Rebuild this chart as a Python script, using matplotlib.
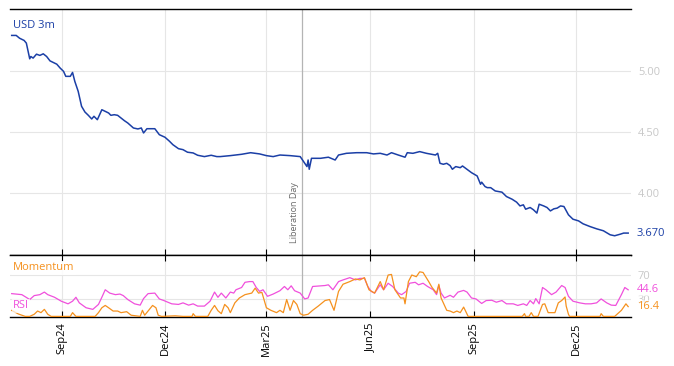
import matplotlib
matplotlib.use("Agg")
import matplotlib.pyplot as plt
import matplotlib.dates as mdates
import matplotlib.transforms as mtransforms
import pandas as pd

plt.rcParams['font.family'] = ['Open Sans', 'DejaVu Sans']

# ---------------- data ----------------
usd_dates = ["2024-07-18", "2024-07-22", "2024-07-25", "2024-07-29", "2024-07-31",
             "2024-08-03", "2024-08-04", "2024-08-06", "2024-08-09", "2024-08-12",
             "2024-08-15", "2024-08-18", "2024-08-21", "2024-08-24", "2024-08-27",
             "2024-08-30", "2024-09-02", "2024-09-04", "2024-09-08", "2024-09-10",
             "2024-09-12", "2024-09-15", "2024-09-18", "2024-09-21", "2024-09-24",
             "2024-09-27", "2024-09-29", "2024-10-02", "2024-10-06", "2024-10-09",
             "2024-10-12", "2024-10-14", "2024-10-17", "2024-10-20", "2024-10-23",
             "2024-10-26", "2024-10-29", "2024-11-03", "2024-11-07", "2024-11-10",
             "2024-11-12", "2024-11-15", "2024-11-22", "2024-11-26", "2024-12-01",
             "2024-12-05", "2024-12-08", "2024-12-13", "2024-12-17", "2024-12-21",
             "2024-12-26", "2024-12-30", "2025-01-05", "2025-01-11", "2025-01-16",
             "2025-01-19", "2025-01-28", "2025-02-07", "2025-02-15", "2025-02-23",
             "2025-03-01", "2025-03-07", "2025-03-13", "2025-03-22", "2025-03-31",
             "2025-04-04", "2025-04-06", "2025-04-07", "2025-04-08", "2025-04-10",
             "2025-04-18", "2025-04-25", "2025-05-01", "2025-05-04", "2025-05-11",
             "2025-05-20", "2025-05-29", "2025-06-04", "2025-06-10", "2025-06-16",
             "2025-06-20", "2025-06-26", "2025-07-02", "2025-07-04", "2025-07-09",
             "2025-07-15", "2025-07-21", "2025-07-29", "2025-07-31", "2025-08-02",
             "2025-08-05", "2025-08-08", "2025-08-11", "2025-08-13", "2025-08-16",
             "2025-08-20", "2025-08-22", "2025-08-26", "2025-08-30", "2025-09-04",
             "2025-09-07", "2025-09-08", "2025-09-11", "2025-09-13", "2025-09-16",
             "2025-09-20", "2025-09-26", "2025-09-30", "2025-10-05", "2025-10-09",
             "2025-10-12", "2025-10-15", "2025-10-17", "2025-10-21", "2025-10-24",
             "2025-10-27", "2025-10-29", "2025-11-02", "2025-11-05", "2025-11-08",
             "2025-11-11", "2025-11-14", "2025-11-17", "2025-11-20", "2025-11-24",
             "2025-11-28", "2025-12-03", "2025-12-07", "2025-12-13", "2025-12-19",
             "2025-12-25", "2025-12-31", "2026-01-04", "2026-01-09", "2026-01-12",
             "2026-01-16"]
usd_3m = [5.293, 5.293, 5.270, 5.252, 5.230,
          5.101, 5.120, 5.107, 5.139, 5.129,
          5.142, 5.120, 5.084, 5.071, 5.057,
          5.025, 4.998, 4.957, 4.957, 4.989,
          4.916, 4.834, 4.711, 4.664, 4.637,
          4.607, 4.629, 4.601, 4.683, 4.670,
          4.656, 4.637, 4.642, 4.637, 4.615,
          4.593, 4.574, 4.533, 4.525, 4.533,
          4.492, 4.527, 4.527, 4.478, 4.457,
          4.424, 4.396, 4.363, 4.355, 4.334,
          4.328, 4.309, 4.298, 4.309, 4.298,
          4.298, 4.306, 4.317, 4.330, 4.320,
          4.306, 4.298, 4.311, 4.306, 4.298,
          4.243, 4.216, 4.270, 4.194, 4.284,
          4.284, 4.293, 4.270, 4.311, 4.325,
          4.330, 4.330, 4.320, 4.325, 4.311,
          4.330, 4.311, 4.293, 4.330, 4.325,
          4.339, 4.325, 4.311, 4.325, 4.243,
          4.235, 4.243, 4.224, 4.194, 4.216,
          4.207, 4.221, 4.194, 4.166, 4.139,
          4.071, 4.088, 4.052, 4.043, 4.043,
          4.016, 4.006, 3.970, 3.948, 3.924,
          3.893, 3.902, 3.866, 3.880, 3.861,
          3.834, 3.907, 3.893, 3.880, 3.852,
          3.869, 3.875, 3.893, 3.888, 3.820,
          3.784, 3.770, 3.746, 3.724, 3.705,
          3.689, 3.656, 3.648, 3.661, 3.670,
          3.670]

rsi_dates = ["2024-07-18", "2024-07-27", "2024-08-03", "2024-08-07", "2024-08-12",
             "2024-08-16", "2024-08-19", "2024-08-25", "2024-08-31", "2024-09-06",
             "2024-09-10", "2024-09-13", "2024-09-16", "2024-09-22", "2024-09-28",
             "2024-10-03", "2024-10-06", "2024-10-09", "2024-10-13", "2024-10-18",
             "2024-10-22", "2024-10-25", "2024-10-29", "2024-11-04", "2024-11-09",
             "2024-11-12", "2024-11-16", "2024-11-22", "2024-11-26", "2024-11-30",
             "2024-12-07", "2024-12-13", "2024-12-17", "2024-12-22", "2024-12-26",
             "2024-12-30", "2025-01-05", "2025-01-10", "2025-01-14", "2025-01-17",
             "2025-01-20", "2025-01-24", "2025-01-28", "2025-01-31", "2025-02-02",
             "2025-02-07", "2025-02-10", "2025-02-14", "2025-02-17", "2025-02-20",
             "2025-02-23", "2025-02-26", "2025-03-02", "2025-03-07", "2025-03-13",
             "2025-03-17", "2025-03-20", "2025-03-23", "2025-03-26", "2025-03-31",
             "2025-04-04", "2025-04-07", "2025-04-11", "2025-04-22", "2025-04-25",
             "2025-04-29", "2025-05-04", "2025-05-08", "2025-05-14", "2025-05-19",
             "2025-05-23", "2025-05-27", "2025-05-30", "2025-06-02", "2025-06-05",
             "2025-06-10", "2025-06-13", "2025-06-17", "2025-06-21", "2025-06-26",
             "2025-06-29", "2025-07-03", "2025-07-06", "2025-07-11", "2025-07-14",
             "2025-07-18", "2025-07-22", "2025-07-27", "2025-07-30", "2025-08-01",
             "2025-08-03", "2025-08-06", "2025-08-11", "2025-08-14", "2025-08-18",
             "2025-08-23", "2025-08-26", "2025-08-30", "2025-09-03", "2025-09-08",
             "2025-09-12", "2025-09-17", "2025-09-21", "2025-09-26", "2025-09-30",
             "2025-10-06", "2025-10-10", "2025-10-15", "2025-10-18", "2025-10-21",
             "2025-10-24", "2025-10-26", "2025-10-29", "2025-11-01", "2025-11-04",
             "2025-11-09", "2025-11-13", "2025-11-18", "2025-11-21", "2025-11-24",
             "2025-11-28", "2025-12-04", "2025-12-09", "2025-12-14", "2025-12-19",
             "2025-12-23", "2025-12-28", "2026-01-01", "2026-01-05", "2026-01-10",
             "2026-01-13", "2026-01-16"]
rsi = [38.2, 36.5, 28.3, 34.9, 36.5,
       40.8, 36.5, 32.1, 25.5, 21.1,
       25.5, 32.1, 22.7, 14.5, 11.8,
       20.1, 32.1, 44.7, 39.1, 36.5,
       37.5, 34.9, 28.3, 21.1, 18.9,
       29.9, 38.2, 39.1, 29.3, 26.6,
       21.1, 20.1, 22.7, 18.9, 21.1,
       17.3, 17.3, 25.5, 40.8, 32.0,
       39.1, 30.9, 40.8, 39.1, 44.7,
       48.5, 57.2, 58.4, 58.4, 48.5,
       41.9, 44.7, 33.7, 37.5, 43.1,
       50.2, 44.7, 51.3, 43.1, 39.1,
       29.3, 30.9, 50.2, 51.8, 53.0,
       44.7, 58.4, 61.2, 65.0, 61.2,
       63.8, 63.8, 50.2, 41.9, 39.1,
       53.0, 44.7, 55.6, 50.2, 39.1,
       36.5, 41.9, 55.6, 57.2, 53.0,
       55.6, 50.2, 44.7, 36.5, 51.8,
       39.1, 30.9, 35.4, 32.1, 40.8,
       43.6, 40.8, 30.9, 29.3, 21.7,
       26.6, 27.1, 23.8, 26.6, 21.1,
       21.1, 18.4, 21.1, 18.4, 26.6,
       21.1, 29.9, 21.1, 48.5, 44.7,
       36.5, 40.8, 51.8, 48.5, 33.7,
       25.5, 22.7, 21.1, 21.1, 22.7,
       29.3, 22.7, 18.9, 18.4, 36.5,
       48.5, 44.6]

mom_dates = ["2024-07-18", "2024-07-24", "2024-07-30", "2024-08-03", "2024-08-07",
             "2024-08-10", "2024-08-13", "2024-08-16", "2024-08-19", "2024-08-22",
             "2024-09-02", "2024-09-08", "2024-09-10", "2024-09-13", "2024-09-30",
             "2024-10-03", "2024-10-06", "2024-10-09", "2024-10-12", "2024-10-16",
             "2024-10-20", "2024-10-23", "2024-10-28", "2024-11-01", "2024-11-09",
             "2024-11-11", "2024-11-13", "2024-11-16", "2024-11-20", "2024-11-23",
             "2024-11-25", "2024-11-28", "2024-12-10", "2024-12-17", "2024-12-25",
             "2024-12-26", "2024-12-28", "2025-01-08", "2025-01-11", "2025-01-14",
             "2025-01-17", "2025-01-20", "2025-01-23", "2025-01-26", "2025-01-28",
             "2025-02-01", "2025-02-05", "2025-02-10", "2025-02-16", "2025-02-19",
             "2025-02-22", "2025-02-25", "2025-03-01", "2025-03-05", "2025-03-10",
             "2025-03-13", "2025-03-16", "2025-03-19", "2025-03-22", "2025-03-25",
             "2025-03-28", "2025-03-31", "2025-04-03", "2025-04-07", "2025-04-11",
             "2025-04-16", "2025-04-22", "2025-04-26", "2025-04-30", "2025-05-04",
             "2025-05-08", "2025-05-14", "2025-05-19", "2025-05-23", "2025-05-27",
             "2025-05-31", "2025-06-05", "2025-06-10", "2025-06-13", "2025-06-17",
             "2025-06-20", "2025-06-23", "2025-06-28", "2025-07-01", "2025-07-02",
             "2025-07-05", "2025-07-08", "2025-07-12", "2025-07-15", "2025-07-18",
             "2025-07-23", "2025-07-26", "2025-07-30", "2025-08-01", "2025-08-03",
             "2025-08-08", "2025-08-11", "2025-08-14", "2025-08-17", "2025-08-20",
             "2025-08-23", "2025-08-24", "2025-08-27", "2025-10-14", "2025-10-16",
             "2025-10-17", "2025-10-20", "2025-10-22", "2025-10-24", "2025-10-28",
             "2025-11-01", "2025-11-03", "2025-11-06", "2025-11-12", "2025-11-15",
             "2025-11-18", "2025-11-21", "2025-11-22", "2025-11-24", "2025-11-25",
             "2025-12-22", "2025-12-23", "2025-12-25", "2026-01-04", "2026-01-10",
             "2026-01-14", "2026-01-16"]
momentum = [10.0, 4.0, 0.0, 0.0, 3.6,
            9.0, 6.3, 11.8, 3.6, 0.0,
            0.0, 0.0, 6.3, 0.0, 0.0,
            6.3, 14.5, 18.4, 14.5, 9.0,
            9.0, 6.3, 7.9, 2.0, 0.0,
            10.2, 2.0, 9.0, 18.4, 14.5,
            2.0, 0.0, 1.0, 0.0, 0.0,
            4.6, 0.0, 0.0, 10.2, 18.4,
            9.5, 4.6, 20.1, 14.5, 6.3,
            22.7, 30.9, 36.5, 39.1, 47.4,
            39.1, 40.3, 14.5, 10.2, 6.3,
            10.2, 6.3, 28.3, 10.2, 26.6,
            20.1, 4.6, 2.0, 3.6, 10.2,
            17.3, 26.6, 28.3, 10.2, 41.9,
            54.0, 58.4, 62.8, 61.2, 65.0,
            44.7, 39.1, 58.4, 44.7, 69.4,
            70.4, 44.7, 30.9, 30.9, 21.1,
            58.4, 69.4, 66.6, 74.8, 73.7,
            58.4, 48.5, 39.1, 54.0, 30.9,
            10.2, 9.0, 6.3, 9.0, 6.3,
            15.6, 11.8, 0.0, 0.0, 4.6,
            0.0, 0.0, 6.3, 0.0, 0.0,
            20.1, 21.1, 6.3, 6.3, 22.7,
            26.6, 32.6, 17.3, 3.6, 0.0,
            0.0, 4.6, 0.0, 0.0, 10.2,
            21.1, 16.4]

main_ticks = [4.0, 4.5, 5.0]
ind_ticks = [30, 70]
x_tick_dates = ["2024-09-01", "2024-12-01", "2025-03-01", "2025-06-01", "2025-09-01", "2025-12-01"]
x_tick_labels = ["Sep24", "Dec24", "Mar25", "Jun25", "Sep25", "Dec25"]
event_date = "2025-04-02"
event_label = "Liberation Day"

# ---------------- style ----------------
BLUE = '#1b3fa6'
PINK = '#f050dc'
ORANGE = '#f5911e'
GRID = '#e6e6e6'
TICKGREY = '#c8c8c8'
FS = 8

usd_x = pd.to_datetime(usd_dates)
rsi_x = pd.to_datetime(rsi_dates)
mom_x = pd.to_datetime(mom_dates)
xt = pd.to_datetime(x_tick_dates)
ev = pd.Timestamp(event_date)
ev_num = mdates.date2num(ev)

fig = plt.figure(figsize=(6.74, 3.66), dpi=100)
W, H = 674, 366
ax = fig.add_axes([10 / W, (H - 255) / H, 621 / W, 246 / H])
ax2 = fig.add_axes([10 / W, (H - 317) / H, 621 / W, 62 / H], sharex=ax)

xmin, xmax = pd.Timestamp('2024-07-16 12:00'), pd.Timestamp('2026-01-18 12:00')

# main panel
ax.plot(usd_x, usd_3m, color=BLUE, lw=1.1, zorder=3)
ax.set_ylim(3.49, 5.51)
ax.set_xlim(xmin, xmax)
ax.yaxis.tick_right()
ax.set_yticks(main_ticks)
ax.set_yticklabels([f"{v:.2f}" for v in main_ticks])
ax.tick_params(axis='y', length=0, pad=5, labelsize=FS, labelcolor=TICKGREY)
ax.set_xticks(xt)
ax.tick_params(axis='x', direction='in', length=4, width=0.8, color='black',
               bottom=True, top=False, labelbottom=False)
ax.grid(True, color=GRID, lw=0.8, zorder=0)
for s in ['left', 'right']:
    ax.spines[s].set_visible(False)
for s in ['top', 'bottom']:
    ax.spines[s].set_color('black')
    ax.spines[s].set_linewidth(1.0)
ax.axvline(ev, color='#b4b4b4', lw=0.9, zorder=2)
ax.annotate(event_label, xy=(ev_num, 0.049),
            xycoords=mtransforms.blended_transform_factory(ax.transData, ax.transAxes),
            xytext=(-3, 0), textcoords='offset pixels', rotation=90,
            ha='right', va='bottom', fontsize=6.5, color='#6a6a6a')
ax.text(3 / 621, 1 - 16 / 246, 'USD 3m', transform=ax.transAxes, color=BLUE,
        fontsize=FS, ha='left', va='center',
        bbox=dict(facecolor='white', edgecolor='none', alpha=0.7, pad=1))
ax.annotate(f"{usd_3m[-1]:.3f}", xy=(1, usd_3m[-1]),
            xycoords=mtransforms.blended_transform_factory(ax.transAxes, ax.transData),
            xytext=(6, 0), textcoords='offset pixels', ha='left', va='center',
            fontsize=FS, color=BLUE, annotation_clip=False)

# indicator panel
ax2.plot(rsi_x, rsi, color=PINK, lw=0.9, zorder=3)
ax2.plot(mom_x, momentum, color=ORANGE, lw=0.9, zorder=3)
ax2.set_ylim(-1, 103)
ax2.yaxis.tick_right()
ax2.set_yticks(ind_ticks)
ax2.set_yticklabels([str(v) for v in ind_ticks])
ax2.tick_params(axis='y', length=0, pad=5, labelsize=FS, labelcolor=TICKGREY)
ax2.set_xticks(xt)
ax2.set_xticklabels(x_tick_labels, rotation=90)
ax2.tick_params(axis='x', direction='in', length=4, width=0.8, color='black',
                bottom=True, top=True, labelsize=FS, pad=4)
ax2.grid(True, color=GRID, lw=0.8, zorder=0)
for s in ['left', 'right']:
    ax2.spines[s].set_visible(False)
for s in ['top', 'bottom']:
    ax2.spines[s].set_color('black')
    ax2.spines[s].set_linewidth(1.0)
ax2.axvline(ev, color='#b4b4b4', lw=0.9, zorder=2)
ax2.text(3 / 621, 1 - 13 / 62, 'Momentum', transform=ax2.transAxes, color=ORANGE,
         fontsize=FS, ha='left', va='center', zorder=5,
         bbox=dict(facecolor='white', edgecolor='none', alpha=0.85, pad=1))
ax2.text(3 / 621, 1 - 51 / 62, 'RSI', transform=ax2.transAxes, color=PINK,
         fontsize=FS, ha='left', va='center', zorder=5,
         bbox=dict(facecolor='white', edgecolor='none', alpha=0.7, pad=1))
tr2 = mtransforms.blended_transform_factory(ax2.transAxes, ax2.transData)
ax2.annotate(f"{rsi[-1]:.1f}", xy=(1, rsi[-1]), xycoords=tr2, xytext=(6, 0),
             textcoords='offset pixels', ha='left', va='center', fontsize=FS,
             color=PINK, annotation_clip=False,
             bbox=dict(facecolor='white', edgecolor='none', alpha=0.6, pad=0.5))
ax2.annotate(f"{momentum[-1]:.1f}", xy=(1, momentum[-1]), xycoords=tr2, xytext=(6, 0),
             textcoords='offset pixels', ha='left', va='center', fontsize=FS,
             color=ORANGE, annotation_clip=False,
             bbox=dict(facecolor='white', edgecolor='none', alpha=0.6, pad=0.5))

fig.savefig('out.png', dpi=100)
